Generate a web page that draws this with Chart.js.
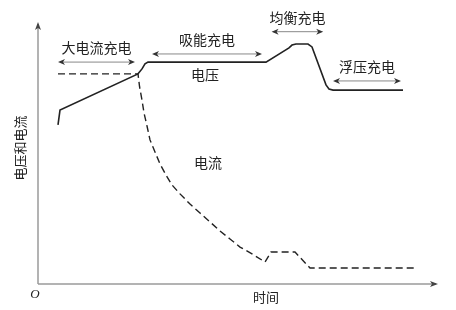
<!DOCTYPE html>
<html>
<head>
<meta charset="utf-8"/>
<title>充电曲线</title>
<script src="https://cdn.jsdelivr.net/npm/chart.js@4/dist/chart.umd.min.js"></script>
<style>
  body { margin: 0; background: #fff; }
</style>
</head>
<body>
<canvas id="chart" width="456" height="310"></canvas>
<script>
// voltage curve (time, value)
var voltageT = [5, 5.5, 25, 26, 26.75, 27.5, 57, 62.75, 63.5, 64.5, 67.5, 68.5, 72, 72.75, 73.75, 91.25];
var voltageV = [60.7, 66.4, 80.2, 82.1, 84.0, 84.7, 84.7, 90.1, 91.2, 91.6, 91.6, 90.5, 76.0, 74.4, 74.0, 74.0];
// current curve
var currentT = [5, 25, 25.4, 26, 26.5, 27.25, 28, 29.25, 30.5, 32, 33.5, 35.5, 38, 40.5, 43, 45.5, 48, 50.5, 53.5, 56.75, 58.25, 64.25, 68, 94.5];
var currentV = [80.2, 80.2, 75.2, 70.2, 65.3, 60.3, 55, 50.4, 45.8, 41.6, 37.8, 34.4, 30.5, 27.1, 23.7, 20.2, 17.2, 14.1, 11.5, 8.4, 12.2, 12.2, 6.1, 6.1];
// charging phases: name, start, end, level
var phaseNames = ["大电流充电", "吸能充电", "均衡充电", "浮压充电"];
var phaseStart = [5, 28.5, 58.4, 73.75];
var phaseEnd = [24.25, 56, 71.3, 90.75];
var phaseLevel = [84.7, 87.8, 96.3, 77.5];
// curve labels
var curveNames = ["电压", "电流"];
var curveLabelT = [41.75, 42.5];
var curveLabelV = [79.8, 46.2];

function pts(t, v) {
  var out = [];
  for (var i = 0; i < t.length; i++) out.push({x: t[i], y: v[i]});
  return out;
}

var FONT = '"Noto Sans CJK SC", sans-serif';

function arrowHead(ctx, x, y, dir, color) {
  ctx.save();
  ctx.fillStyle = color;
  ctx.beginPath();
  ctx.moveTo(x, y);
  ctx.lineTo(x - dir * 7, y - 3);
  ctx.lineTo(x - dir * 5, y);
  ctx.lineTo(x - dir * 7, y + 3);
  ctx.closePath();
  ctx.fill();
  ctx.restore();
}

var decor = {
  id: 'decor',
  afterDraw: function(chart) {
    var ctx = chart.ctx;
    var xs = chart.scales.x, ys = chart.scales.y;
    var a = chart.chartArea;
    var ox = xs.getPixelForValue(0), oy = ys.getPixelForValue(0);

    // axes
    ctx.save();
    ctx.strokeStyle = '#9a9a9a';
    ctx.lineWidth = 1.5;
    ctx.beginPath();
    ctx.moveTo(ox, oy); ctx.lineTo(a.right - 2, oy);
    ctx.moveTo(ox, oy); ctx.lineTo(ox, a.top + 2);
    ctx.stroke();
    ctx.fillStyle = '#444';
    ctx.beginPath();
    ctx.moveTo(a.right, oy); ctx.lineTo(a.right - 8, oy - 3); ctx.lineTo(a.right - 6, oy); ctx.lineTo(a.right - 8, oy + 3);
    ctx.closePath(); ctx.fill();
    ctx.beginPath();
    ctx.moveTo(ox, a.top); ctx.lineTo(ox - 3, a.top + 8); ctx.lineTo(ox, a.top + 6); ctx.lineTo(ox + 3, a.top + 8);
    ctx.closePath(); ctx.fill();

    // axis labels
    ctx.fillStyle = '#222';
    ctx.textAlign = 'center';
    ctx.textBaseline = 'middle';
    ctx.font = 'italic 13px "Liberation Serif", serif';
    ctx.fillText('O', ox - 3, oy + 11);
    ctx.font = '13px ' + FONT;
    ctx.fillText('时间', (a.left + a.right) / 2 + 28, oy + 13);
    ctx.save();
    ctx.translate(ox - 18, (a.top + oy) / 2 - 5);
    ctx.rotate(-Math.PI / 2);
    ctx.fillText('电压和电流', 0, 0);
    ctx.restore();

    // phase arrows
    for (var i = 0; i < phaseNames.length; i++) {
      var x1 = xs.getPixelForValue(phaseStart[i]);
      var x2 = xs.getPixelForValue(phaseEnd[i]);
      var y = ys.getPixelForValue(phaseLevel[i]);
      ctx.strokeStyle = '#888';
      ctx.lineWidth = 1;
      ctx.beginPath();
      ctx.moveTo(x1 + 3, y); ctx.lineTo(x2 - 3, y);
      ctx.stroke();
      arrowHead(ctx, x1, y, -1, '#333');
      arrowHead(ctx, x2, y, 1, '#333');
      ctx.fillStyle = '#222';
      ctx.font = '14px ' + FONT;
      ctx.fillText(phaseNames[i], (x1 + x2) / 2, y - 14);
    }

    // curve labels
    for (var j = 0; j < curveNames.length; j++) {
      ctx.fillText(curveNames[j], xs.getPixelForValue(curveLabelT[j]), ys.getPixelForValue(curveLabelV[j]));
    }
    ctx.restore();
  }
};

new Chart(document.getElementById('chart'), {
  type: 'line',
  data: {
    datasets: [{
      label: '电压',
      data: pts(voltageT, voltageV),
      borderColor: '#222',
      borderWidth: 1.6,
      pointRadius: 0,
      tension: 0,
      fill: false
    }, {
      label: '电流',
      data: pts(currentT, currentV),
      borderColor: '#222',
      borderWidth: 1.4,
      borderDash: [7, 4],
      pointRadius: 0,
      tension: 0,
      fill: false
    }]
  },
  options: {
    responsive: false,
    animation: false,
    layout: { padding: { left: 38, top: 22, right: 18, bottom: 26 } },
    plugins: { legend: { display: false }, tooltip: { enabled: false } },
    scales: {
      x: { type: 'linear', min: 0, max: 100, display: false },
      y: { min: 0, max: 100, display: false }
    }
  },
  plugins: [decor]
});
</script>
</body>
</html>
